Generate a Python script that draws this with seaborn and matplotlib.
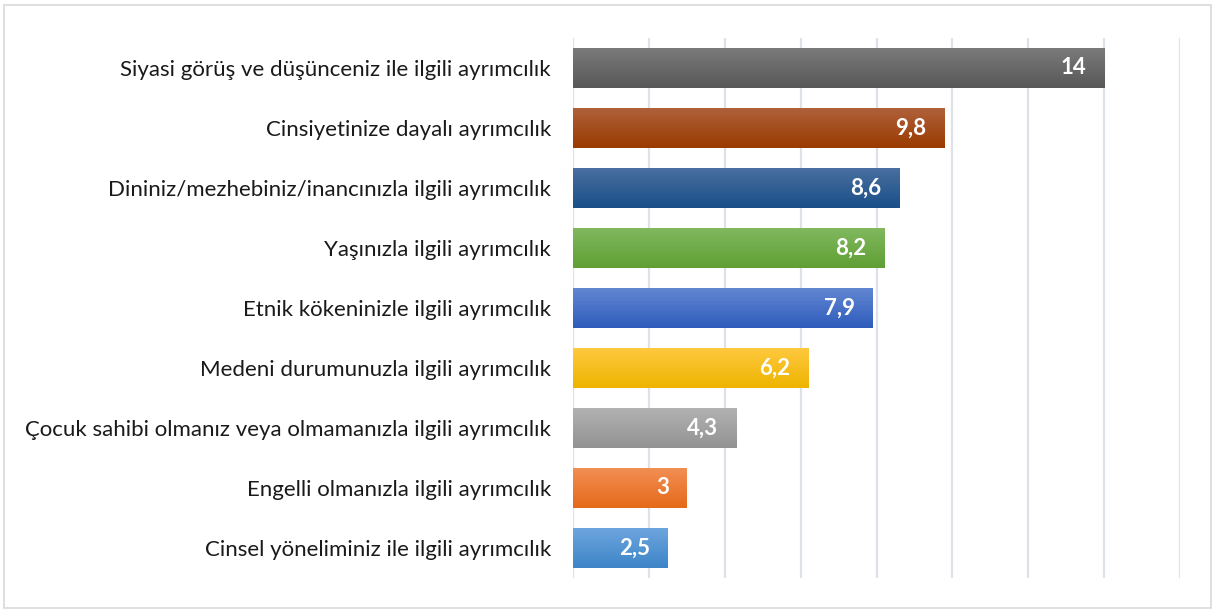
import numpy as np
import matplotlib
matplotlib.use("Agg")
import matplotlib.pyplot as plt
import matplotlib.colors as mcolors
from matplotlib.patches import Rectangle
import seaborn as sns
import pandas as pd

categories = [
    "Siyasi görüş ve düşünceniz ile ilgili ayrımcılık",
    "Cinsiyetinize dayalı ayrımcılık",
    "Dininiz/mezhebiniz/inancınızla ilgili ayrımcılık",
    "Yaşınızla ilgili ayrımcılık",
    "Etnik kökeninizle ilgili ayrımcılık",
    "Medeni durumunuzla ilgili ayrımcılık",
    "Çocuk sahibi olmanız veya olmamanızla ilgili ayrımcılık",
    "Engelli olmanızla ilgili ayrımcılık",
    "Cinsel yöneliminiz ile ilgili ayrımcılık",
]
values = [14, 9.8, 8.6, 8.2, 7.9, 6.2, 4.3, 3, 2.5]
value_labels = ["14", "9,8", "8,6", "8,2", "7,9", "6,2", "4,3", "3", "2,5"]
# gradient colours (top, bottom) for each bar
top_colors = ["#7b7b7b", "#b0613c", "#4a70a0", "#82b960", "#6388d2", "#ffc940", "#b2b2b2", "#f28f54", "#6ea6de"]
bottom_colors = ["#585858", "#9a3b00", "#1a4f88", "#5f9f33", "#2f5cbc", "#eeb400", "#939393", "#e56a1a", "#3d85c8"]

sns.set_theme(style="white")
plt.rcParams["font.family"] = ["Lato", "DejaVu Sans"]

fig = plt.figure(figsize=(12.15, 6.12), dpi=100)
ax = fig.add_axes([573 / 1215, 1 - 578 / 612, 607 / 1215, 540 / 612])

df = pd.DataFrame({"kategori": categories, "deger": values})
sns.barplot(data=df, x="deger", y="kategori", ax=ax, width=0.68,
            color="#888888", saturation=1, zorder=2)

ax.set_xlim(0, 16)
ax.set_ylim(len(categories) - 0.5, -0.5)
ax.set_xticks(np.arange(0, 17, 2))
ax.xaxis.grid(True, color="#dde1e8", linewidth=1.6, zorder=0)
ax.yaxis.grid(False)
ax.tick_params(axis="x", labelbottom=False, length=0)
ax.tick_params(axis="y", length=0, pad=16, labelsize=16, labelcolor="#1a1a1a")
ax.set_xlabel("")
ax.set_ylabel("")
for s in ax.spines.values():
    s.set_visible(False)

# vertical gradient fill clipped to each bar
for patch, c_top, c_bot in zip(ax.patches, top_colors, bottom_colors):
    x0, y0 = patch.get_x(), patch.get_y()
    w, h = patch.get_width(), patch.get_height()
    cmap = mcolors.LinearSegmentedColormap.from_list("g", [c_top, c_bot])
    grad = np.linspace(0, 1, 64).reshape(-1, 1)
    im = ax.imshow(grad, cmap=cmap, aspect="auto", interpolation="bicubic",
                   extent=(x0, x0 + w, y0 + h, y0), zorder=3)
    im.set_clip_path(patch)
    patch.set_facecolor("none")
    patch.set_edgecolor("none")

ax.set_xlim(0, 16)
ax.set_ylim(len(categories) - 0.5, -0.5)

for i, (v, lab) in enumerate(zip(values, value_labels)):
    ax.annotate(lab, xy=(v, i), xytext=(-13, 0), textcoords="offset points",
                ha="right", va="center", color="white", fontsize=16,
                fontweight="bold", zorder=4)

# light outer frame
fig.add_artist(Rectangle((4 / 1215, 4 / 612), 1207 / 1215, 603 / 612,
                         transform=fig.transFigure, fill=False,
                         edgecolor="#d9d9d9", linewidth=1.2))

fig.savefig("out.png", dpi=100)
